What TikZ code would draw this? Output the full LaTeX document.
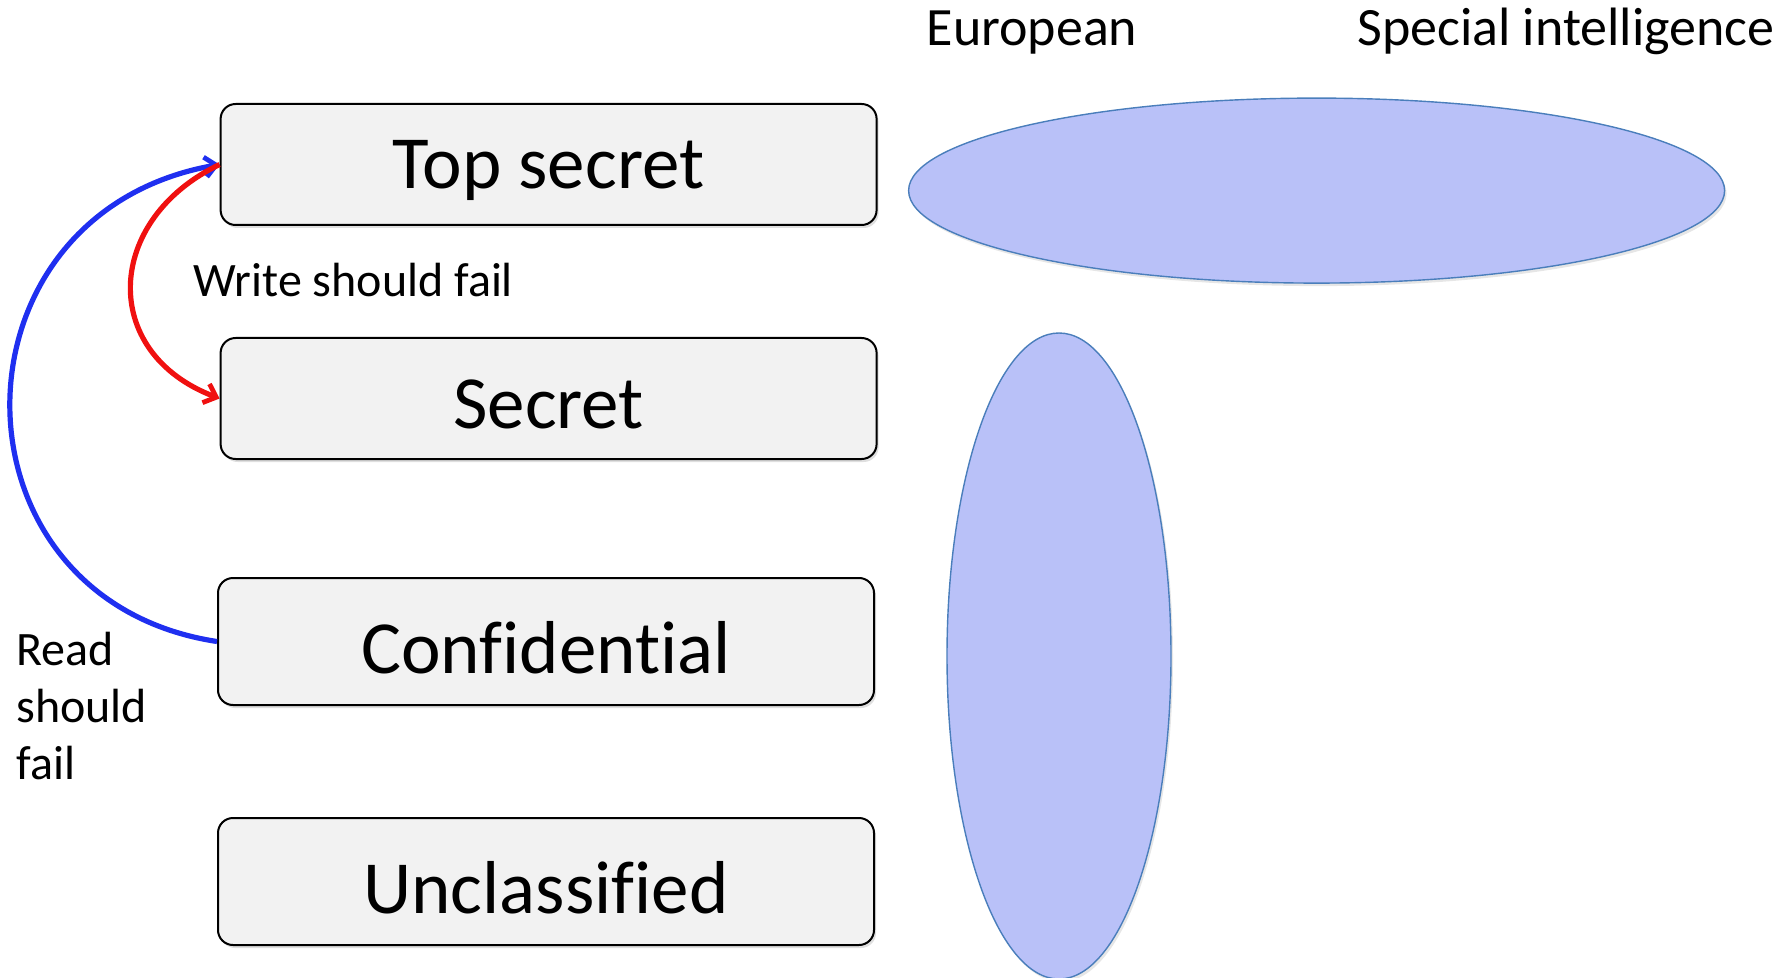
\documentclass[tikz,border=0pt]{standalone}
\usepackage{fontspec}
\setmainfont{Carlito}[Ligatures=NoCommon]
\usetikzlibrary{shapes.geometric,arrows.meta,shadows}
\definecolor{boxfill}{HTML}{F2F2F2}
\definecolor{ellfill}{HTML}{B9C1F8}
\definecolor{elldraw}{HTML}{4A7EBB}
\definecolor{arrblue}{HTML}{1F2FF0}
\definecolor{arrred}{HTML}{F01010}
\newcommand{\lowr}[1]{\raisebox{-3pt}[\height][\depth]{#1}}
\begin{document}
\begin{tikzpicture}[x=0.5pt,y=-0.5pt,
  level/.style={draw=black,line width=1pt,fill=boxfill,rounded corners=7.5pt,
    minimum width=328pt,inner sep=0pt,font=\fontsize{37.5}{45}\selectfont,
    drop shadow={shadow xshift=1pt,shadow yshift=-1.5pt,opacity=0.25}},
  blob/.style={ellipse,draw=elldraw,line width=0.7pt,fill=ellfill,inner sep=0pt,
    drop shadow={shadow xshift=1pt,shadow yshift=-1.5pt,opacity=0.2}},
  lbl/.style={inner sep=0pt,font=\fontsize{24}{28.5}\selectfont},
  big/.style={inner sep=0pt,font=\fontsize{27}{32}\selectfont},
  arr/.style={line width=2.6pt,-{Straight Barb[length=5.5pt,width=10pt,line width=2.4pt]}}
]
\useasboundingbox (0,0) rectangle (1792,978);
\node[level,minimum height=60.5pt] (top) at (548.6,164.5) {\lowr{Top secret}};
\node[level,minimum height=60.5pt] (sec) at (548.6,398.5) {\lowr{Secret}};
\node[level,minimum height=63.5pt] (conf) at (546,641.5) {\lowr{Confidential}};
\node[level,minimum height=63.5pt] (uncl) at (546,881.5) {\lowr{Unclassified}};
\node[blob,minimum width=408pt,minimum height=92.5pt] (si) at (1316.6,190.6) {};
\node[blob,minimum width=112pt,minimum height=323pt] (eu) at (1059,656) {};
\node[big,anchor=base] (eut) at (1032,46) {European};
\node[big,anchor=base] (sit) at (1566,46) {Special intelligence};
\node[lbl,anchor=base west] (wsf) at (193,297) {Write should fail};
\node[lbl,anchor=north west,align=left] (rsf) at (16,632) {Read\\should\\fail};
\draw[arr,arrblue] (conf.west) .. controls +(-276,-42) and +(-278,49) .. (top.west);
\draw[arr,arrred] (top.west) .. controls +(-115,55) and +(-121,-46) .. (sec.west);
\end{tikzpicture}
\end{document}
